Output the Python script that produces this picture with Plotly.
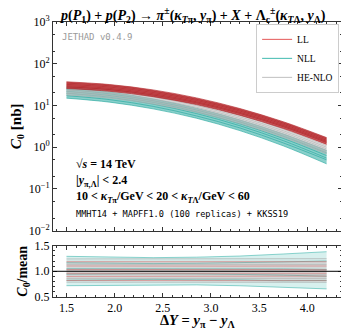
import numpy as np
import plotly.graph_objects as go

# Rapidity-interval points
delta_y = [1.5, 1.95, 2.4, 2.85, 3.3, 3.75, 4.2]

# C0 [nb] replicas (one list per replica)
ll_replicas = [
    [36.9, 31.7, 23.6, 15.2, 8.45, 4.08, 1.70],
    [34.3, 29.6, 22.0, 14.1, 7.85, 3.80, 1.58],
    [32.0, 27.6, 20.5, 13.2, 7.36, 3.55, 1.47],
    [29.9, 25.7, 19.1, 12.3, 6.85, 3.31, 1.38],
    [28.0, 24.1, 17.9, 11.6, 6.45, 3.12, 1.30],
    [25.5, 21.9, 16.3, 10.5, 5.83, 2.82, 1.17],
]
nll_replicas = [
    [26.9, 21.0, 14.3, 8.58, 4.51, 2.08, 0.84],
    [24.3, 19.0, 13.0, 7.78, 4.05, 1.84, 0.73],
    [21.9, 17.3, 11.9, 7.06, 3.64, 1.63, 0.63],
    [19.7, 15.7, 10.8, 6.40, 3.27, 1.44, 0.55],
    [17.2, 13.8, 9.52, 5.62, 2.90, 1.27, 0.50],
    [15.0, 12.0, 8.30, 4.95, 2.50, 1.08, 0.40],
]
henlo_replicas = [
    [28.1, 23.8, 17.3, 10.9, 5.88, 2.73, 1.10],
    [25.7, 21.7, 15.8, 9.92, 5.36, 2.49, 1.00],
    [23.4, 19.8, 14.4, 9.05, 4.89, 2.27, 0.91],
    [21.3, 18.1, 13.1, 8.25, 4.46, 2.07, 0.83],
    [19.5, 16.5, 12.0, 7.53, 4.07, 1.89, 0.76],
    [17.8, 15.0, 10.9, 6.87, 3.71, 1.72, 0.69],
]

log_ticks = [0.01, 0.1, 1, 10, 100, 1000]
log_labels = ["10<sup>−2</sup>", "10<sup>−1</sup>", "10<sup>0</sup>", "10<sup>1</sup>",
              "10<sup>2</sup>", "10<sup>3</sup>"]

series_names = ["NLL", "HE-NLO", "LL"]
series_data = [nll_replicas, henlo_replicas, ll_replicas]
line_colors = ["rgba(32,165,155,0.6)", "rgba(175,175,175,0.6)", "rgba(175,28,34,0.6)"]
band_colors = ["rgba(40,170,160,0.55)", "rgba(190,190,190,0.5)", "rgba(180,32,36,0.75)"]
ratio_colors = ["rgba(32,170,160,0.5)", "rgba(160,160,160,0.45)", "rgba(225,70,70,0.45)"]
ratio_fill = ["rgba(32,170,160,0.18)", "rgba(170,170,170,0.12)", "rgba(220,70,70,0.08)"]
legend_colors = {"LL": "#e87070", "NLL": "#5cc4bb", "HE-NLO": "#c8c8c8"}

serif = "Liberation Serif"
mono = "DejaVu Sans Mono"
frame = "#333"

fig = go.Figure()

# legend entries first
for name in ["LL", "NLL", "HE-NLO"]:
    fig.add_trace(go.Scatter(x=[None], y=[None], mode="lines", name=name,
                             line=dict(color=legend_colors[name], width=1.2), xaxis="x2", yaxis="y2"))

for name, reps, lc, bc, rc, rf in zip(series_names, series_data, line_colors,
                                      band_colors, ratio_colors, ratio_fill):
    arr = np.array(reps)
    ratio = arr / arr.mean(axis=0)
    # main panel band (envelope of replicas)
    fig.add_trace(go.Scatter(x=delta_y, y=arr.max(axis=0), mode="lines", line=dict(width=0, shape="spline"),
                             xaxis="x2", yaxis="y2", showlegend=False, hoverinfo="skip"))
    fig.add_trace(go.Scatter(x=delta_y, y=arr.min(axis=0), mode="lines", line=dict(width=0, shape="spline"),
                             fill="tonexty", fillcolor=bc, xaxis="x2", yaxis="y2", showlegend=False,
                             hoverinfo="skip"))
    for r in arr:
        fig.add_trace(go.Scatter(x=delta_y, y=r, mode="lines", line=dict(color=lc, width=1, shape="spline"),
                                 xaxis="x2", yaxis="y2", showlegend=False))
    # ratio panel
    fig.add_trace(go.Scatter(x=delta_y, y=ratio.max(axis=0), mode="lines", line=dict(width=0),
                             xaxis="x", yaxis="y", showlegend=False, hoverinfo="skip"))
    fig.add_trace(go.Scatter(x=delta_y, y=ratio.min(axis=0), mode="lines", line=dict(width=0),
                             fill="tonexty", fillcolor=rf, xaxis="x", yaxis="y", showlegend=False,
                             hoverinfo="skip"))
    for r in ratio:
        fig.add_trace(go.Scatter(x=delta_y, y=r, mode="lines", line=dict(color=rc, width=1),
                                 xaxis="x", yaxis="y", showlegend=False))

axis_common = dict(showline=True, linecolor=frame, linewidth=1, mirror="allticks", ticks="inside",
                   tickcolor=frame, ticklen=4, showgrid=False, zeroline=False,
                   tickfont=dict(family=serif, size=12, color="black"))
minor_lin = dict(ticks="inside", ticklen=2, dtick=0.1, tickcolor=frame)

# page body adds an 8px offset, so the figure is 8px smaller in each direction
fig.update_layout(
    width=341, height=320,
    margin=dict(l=38, r=6, t=11, b=31),
    paper_bgcolor="white", plot_bgcolor="white",
    font=dict(family=serif, color="black"),
    xaxis=dict(domain=[0, 1], range=[1.36, 4.36], dtick=0.5, tickformat=".1f",
               minor=minor_lin, **axis_common),
    yaxis=dict(domain=[0, 0.187], range=[0.5, 1.5], tickvals=[0.5, 1.0, 1.5], tickformat=".1f",
               minor=minor_lin,
               title=dict(text="<b><i>C</i><sub>0</sub>/mean</b>", font=dict(family=serif, size=14),
                          standoff=3),
               **axis_common),
    xaxis2=dict(domain=[0, 1], range=[1.36, 4.36], dtick=0.5, matches="x", showticklabels=False,
                anchor="y2", minor=minor_lin, **axis_common),
    yaxis2=dict(domain=[0.241, 1], type="log", range=[-2, 3], tickvals=log_ticks, ticktext=log_labels,
                anchor="x2",
                minor=dict(ticks="inside", ticklen=2, tickcolor=frame),
                title=dict(text="<b><i>C</i><sub>0</sub> [nb]</b>", font=dict(family=serif, size=15),
                           standoff=4),
                **axis_common),
    legend=dict(x=0.99, y=0.993, xanchor="right", yanchor="top", bgcolor="white",
                bordercolor="#ccc", borderwidth=1, font=dict(family=serif, size=9.5),
                itemwidth=30, tracegroupgap=0, traceorder="normal"),
    showlegend=True,
)

# reference line at 1 in ratio panel
fig.add_shape(type="line", xref="x domain", yref="y", x0=0, x1=1, y0=1, y1=1,
              line=dict(color="black", width=1))

fig.add_annotation(xref="paper", yref="paper", x=0.5, y=-0.088, xanchor="center", yanchor="middle",
                   showarrow=False,
                   text="<b>Δ<i>Y</i> = <i>y</i><sub>π</sub> − <i>y</i><sub>Λ</sub></b>",
                   font=dict(family=serif, size=14.5, color="black"))
fig.add_annotation(xref="paper", yref="paper", x=0.485, y=1.0, yanchor="bottom", xanchor="center",
                   showarrow=False, yshift=-5,
                   text="<b><i>p</i>(<i>P</i><sub>1</sub>) + <i>p</i>(<i>P</i><sub>2</sub>) → "
                        "<i>π</i><sup>±</sup>(<i>κ</i><sub><i>T</i>π</sub>, <i>y</i><sub>π</sub>) + "
                        "<i>X</i> + Λ<sub>c</sub><sup>±</sup>(<i>κ</i><sub><i>T</i>Λ</sub>, "
                        "<i>y</i><sub>Λ</sub>)</b>",
                   font=dict(family=serif, size=14, color="black"))
fig.add_annotation(xref="paper", yref="paper", x=0.023, y=0.946, xanchor="left", yanchor="middle",
                   showarrow=False, text="JETHAD v0.4.9",
                   font=dict(family=mono, size=9, color="#9a9a9a"))

info_lines = [
    ("<b>√<i>s</i> = 14 TeV</b>", 0.482, serif, 12),
    ("<b>|<i>y</i><sub>π,Λ</sub>| < 2.4</b>", 0.421, serif, 12),
    ("<b>10 < <i>κ</i><sub><i>T</i>π</sub>/GeV < 20 < <i>κ</i><sub><i>T</i>Λ</sub>/GeV < 60</b>",
     0.363, serif, 12),
    ("MMHT14 + MAPFF1.0 (100 replicas) + KKSS19", 0.302, mono, 8.6),
]
for txt, yy, fam, sz in info_lines:
    fig.add_annotation(xref="paper", yref="paper", x=0.071, y=yy, xanchor="left", yanchor="middle",
                       showarrow=False, text=txt, font=dict(family=fam, size=sz, color="black"))

fig.write_html("out.html")
